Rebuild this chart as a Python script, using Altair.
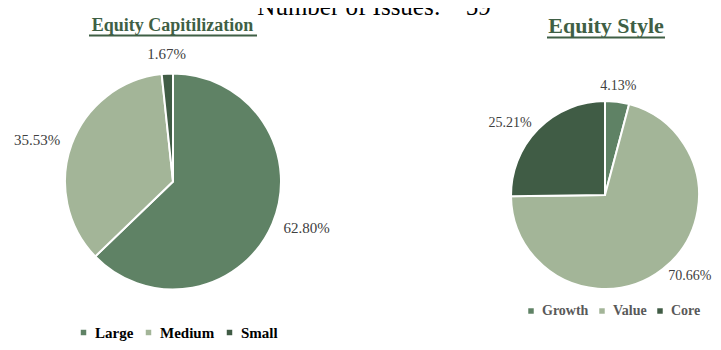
import altair as alt
import pandas as pd

# ---- data ----
cap_categories = ["Large", "Medium", "Small"]
cap_values = [62.80, 35.53, 1.67]
style_categories = ["Growth", "Value", "Core"]
style_values = [4.13, 70.66, 25.21]
palette = ["#5f8265", "#a3b598", "#405c45"]
header_text = ["Number of Issues:\u00a0\u00a0\u00a0 59"]
panel_titles = ["Equity Capitilization", "Equity Style"]

FONT = "Liberation Serif"
TITLE_COLOR = "#3f5f45"


def make_df(cats, vals):
    return pd.DataFrame({
        "cat": cats,
        "value": vals,
        "idx": list(range(len(cats))),
        "label": [f"{v:.2f}%" for v in vals],
    })


def pie_layers(cats, vals, cx, cy, r, legend_x, legend_y, label_size,
               legend_size, legend_color, col_pad, gap=12):
    df = make_df(cats, vals)
    arc = alt.Chart(df).mark_arc(radius=r, stroke="white", strokeWidth=2).encode(
        theta=alt.Theta("value:Q", stack=True),
        order=alt.Order("idx:Q"),
        color=alt.Color(
            "cat:N",
            scale=alt.Scale(domain=cats, range=palette),
            legend=alt.Legend(
                orient="none", legendX=legend_x, legendY=legend_y,
                direction="horizontal", title=None, symbolType="square",
                symbolSize=30, symbolStrokeWidth=0, labelFont=FONT,
                labelFontSize=legend_size, labelFontWeight="bold",
                labelColor=legend_color, columnPadding=col_pad, labelOffset=4,
                gridAlign="none",
            ),
        ),
        x=alt.value(cx), y=alt.value(cy),
    )
    base = (
        alt.Chart(df)
        .transform_joinaggregate(total="sum(value)")
        .transform_window(cum="sum(value)", sort=[alt.SortField("idx")], frame=[None, 0])
        .transform_calculate(mid="(datum.cum - datum.value / 2) / datum.total")
    )
    sides = [
        ("datum.mid >= 0.08 && datum.mid <= 0.42", "left", "middle"),
        ("datum.mid > 0.42 && datum.mid < 0.58", "center", "top"),
        ("datum.mid >= 0.58 && datum.mid <= 0.92", "right", "middle"),
        ("datum.mid < 0.08 || datum.mid > 0.92", "center", "bottom"),
    ]
    texts = []
    for test, align, baseline in sides:
        texts.append(
            base.mark_text(radius=r + gap, align=align, baseline=baseline,
                           font=FONT, fontSize=label_size, color="#404040").encode(
                theta=alt.Theta("value:Q", stack=True),
                order=alt.Order("idx:Q"),
                text=alt.condition(test, alt.Text("label:N"), alt.value("")),
                x=alt.value(cx), y=alt.value(cy),
            )
        )
    return [arc] + texts


left = pie_layers(cap_categories, cap_values, 165, 173.5, 108,
                  68, 317, 15, 15, "#000000", 7, gap=12)
right = pie_layers(style_categories, style_values, 597, 187, 94,
                   516, 296, 14, 14, "#595959", 6, gap=9)

header = alt.Chart(pd.DataFrame({"t": header_text})).mark_text(
    font=FONT, fontSize=25, align="center", baseline="alphabetic", color="#000000"
).encode(text="t:N", x=alt.value(366), y=alt.value(7))

t_left = alt.Chart(pd.DataFrame({"t": panel_titles[:1]})).mark_text(
    font=FONT, fontSize=18, fontWeight="bold", align="center",
    baseline="alphabetic", color=TITLE_COLOR
).encode(text="t:N", x=alt.value(164.5), y=alt.value(23))
u_left = alt.Chart(pd.DataFrame({"t": panel_titles[:1]})).mark_rule(
    color=TITLE_COLOR, strokeWidth=2
).encode(x=alt.value(81), x2=alt.value(249), y=alt.value(27.5))

t_right = alt.Chart(pd.DataFrame({"t": panel_titles[1:]})).mark_text(
    font=FONT, fontSize=22, fontWeight="bold", align="center",
    baseline="alphabetic", color=TITLE_COLOR
).encode(text="t:N", x=alt.value(598), y=alt.value(25))
u_right = alt.Chart(pd.DataFrame({"t": panel_titles[1:]})).mark_rule(
    color=TITLE_COLOR, strokeWidth=2
).encode(x=alt.value(539), x2=alt.value(657), y=alt.value(29.5))

chart = (
    alt.layer(*left, *right, header, t_left, u_left, t_right, u_right)
    .resolve_scale(color="independent", theta="independent")
    .properties(width=705, height=334, padding=0, autosize=alt.AutoSizeParams(type="none"))
    .configure_view(stroke=None)
)

chart.save("out.html", embed_options={"renderer": "svg", "actions": False})
